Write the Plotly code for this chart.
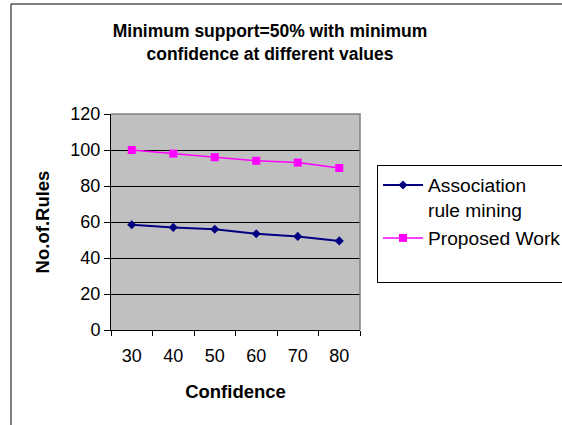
import plotly.graph_objects as go

# Minimum support fixed at 50%, confidence varied
confidence = ["30", "40", "50", "60", "70", "80"]
assoc_rules = [58.5, 57, 56, 53.5, 52, 49.5]
proposed_rules = [100, 98, 96, 94, 93, 90]

y_ticks = [0, 20, 40, 60, 80, 100, 120]

FONT = "Liberation Sans, Arial, sans-serif"

fig = go.Figure()
fig.add_trace(go.Scatter(
    x=confidence, y=assoc_rules, mode="lines+markers",
    name="Association<br>rule mining",
    line=dict(color="#000080", width=2),
    marker=dict(symbol="diamond", size=7, color="#000080"),
))
fig.add_trace(go.Scatter(
    x=confidence, y=proposed_rules, mode="lines+markers",
    name="Proposed Work<br> ",
    line=dict(color="#FF00FF", width=1.5),
    marker=dict(symbol="square", size=8, color="#FF00FF"),
))

L, R, T, B = 111, 202, 114, 95
W, H = 562, 425
pw, ph = W - L - R, H - T - B

def px_x(p):
    return (p - L) / pw

def px_y(p):
    return (H - B - p) / ph

fig.update_layout(
    width=W, height=H,
    margin=dict(l=L, r=R, t=T, b=B, autoexpand=False),
    paper_bgcolor="white",
    plot_bgcolor="#C0C0C0",
    font=dict(family=FONT, color="black", size=18),
    title=dict(
        text="<b>Minimum support=50% with minimum<br>confidence at different values</b>",
        x=270 / W, xanchor="center",
        y=1 - 37 / H, yanchor="middle",
        font=dict(size=17.5, family=FONT),
    ),
    xaxis=dict(
        type="category", range=[-0.5, 5.5],
        tickson="boundaries", ticks="outside", ticklen=5, tickcolor="black",
        showline=True, linecolor="black", linewidth=1,
        showgrid=False, ticklabelstandoff=9,
        title=dict(text="<b>Confidence</b>", font=dict(size=18.5), standoff=20),
    ),
    yaxis=dict(
        range=[0, 120], tickvals=y_ticks,
        ticks="outside", ticklen=6, tickcolor="black",
        showline=True, linecolor="black", linewidth=1,
        showgrid=True, gridcolor="black", gridwidth=1, zeroline=False,
        title=dict(text="<b>No.of.Rules</b>", font=dict(size=18.5), standoff=15),
    ),
    legend=dict(
        x=px_x(377), y=px_y(165), xanchor="left", yanchor="top",
        bgcolor="white", bordercolor="black", borderwidth=1,
        font=dict(size=19.2, family=FONT), itemwidth=40, valign="top",
        tracegroupgap=0,
    ),
    shapes=[
        # grey border on the top and right of the plot area
        dict(type="path", xref="paper", yref="paper",
             path="M 0,1 L 1,1 L 1,0", line=dict(color="#808080", width=1.5),
             layer="above"),
        # outer chart frame
        dict(type="rect", xref="paper", yref="paper",
             x0=px_x(11), y0=-1, x1=3, y1=px_y(4),
             line=dict(color="black", width=1), layer="below"),
    ],
)

fig.write_html("out.html")
